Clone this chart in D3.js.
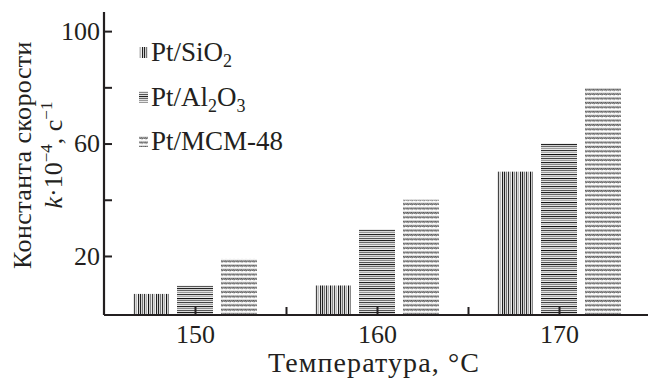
<!DOCTYPE html>
<html>
<head>
<meta charset="utf-8">
<script src="https://cdn.jsdelivr.net/npm/d3@7"></script>
<style>
  body { margin: 0; background: #fff; }
  svg text { font-family: "Liberation Serif", "DejaVu Serif", serif; fill: #231f20; }
</style>
</head>
<body>
<svg id="chart" width="648" height="378"></svg>
<script>
// data
const categories = ['150', '160', '170'];
const series = ['Pt/SiO2', 'Pt/Al2O3', 'Pt/MCM-48'];
const ptSiO2 = [6.5, 9.5, 50];
const ptAl2O3 = [9.5, 29.5, 60];
const ptMCM48 = [19, 40, 80];
const yTicks = [20, 40, 60, 80, 100];
const yLabels = [20, 60, 100];

const values = [ptSiO2, ptAl2O3, ptMCM48];
const ink = '#231f20';

const svg = d3.select('#chart');
const plotLeft = 104, plotRight = 650, plotBottom = 315, plotTop = 12;

const y = d3.scaleLinear().domain([-1, 106.8]).range([plotBottom, plotTop]);
const x0 = d3.scaleBand().domain(categories).range([plotLeft, plotRight]);
const x1 = d3.scaleBand().domain(series).range([0, x0.bandwidth()])
  .paddingInner(8 / 44).paddingOuter(0.659);
// tick positions: group centres and the boundaries between groups
const xPos = d3.scaleLinear().domain([0, categories.length]).range([plotLeft, plotRight]);

// fill patterns
const defs = svg.append('defs');

const pv = defs.append('pattern').attr('id', 'pat0')
  .attr('patternUnits', 'userSpaceOnUse').attr('width', 18).attr('height', 4);
pv.append('rect').attr('width', 18).attr('height', 4).attr('fill', '#fff');
[['#222', 0], ['#777', 2], ['#333', 4], ['#aaa', 6], ['#111', 8], ['#888', 10], ['#444', 12], ['#bbb', 14], ['#222', 16]]
  .forEach(([c, px]) => pv.append('rect').attr('x', px).attr('width', 1.2).attr('height', 4).attr('fill', c));

const ph = defs.append('pattern').attr('id', 'pat1')
  .attr('patternUnits', 'userSpaceOnUse').attr('width', 4).attr('height', 24);
ph.append('rect').attr('width', 4).attr('height', 24).attr('fill', '#fff');
[['#222', 0], ['#666', 2], ['#999', 4], ['#333', 6], ['#aaa', 8], ['#111', 10], ['#777', 12], ['#444', 14], ['#999', 16], ['#222', 18], ['#888', 20], ['#555', 22]]
  .forEach(([c, py]) => ph.append('rect').attr('y', py).attr('width', 4).attr('height', 1.2).attr('fill', c));

// wavy dotted rows for MCM-48
const pw = defs.append('pattern').attr('id', 'pat2')
  .attr('patternUnits', 'userSpaceOnUse').attr('width', 4).attr('height', 4.4);
pw.append('rect').attr('width', 4).attr('height', 4.4).attr('fill', '#fff');
pw.append('path').attr('d', 'M0,2.4 L1,1 L2,2.4 L3,1 L4,2.4')
  .attr('fill', 'none').attr('stroke', '#333').attr('stroke-width', 1)
  .attr('stroke-dasharray', '1.2 0.4');

// bars
const groups = svg.append('g').selectAll('g')
  .data(categories)
  .join('g')
  .attr('transform', d => `translate(${x0(d)},0)`);

groups.selectAll('rect')
  .data((d, i) => series.map((s, j) => ({ s, j, v: values[j][i] })))
  .join('rect')
  .attr('x', d => x1(d.s))
  .attr('width', x1.bandwidth())
  .attr('y', d => y(d.v))
  .attr('height', d => plotBottom - y(d.v))
  .attr('fill', d => `url(#pat${d.j})`);

// y axis
const yAxis = svg.append('g').attr('transform', `translate(${plotLeft},0)`)
  .call(d3.axisLeft(y).tickValues(yTicks).tickSize(-8).tickPadding(4)
    .tickFormat(d => yLabels.includes(d) ? d : ''));
yAxis.select('.domain').attr('d', `M0,${plotTop}V${plotBottom}`);

// x axis
const xTicks = d3.range(0.5, categories.length, 0.5);
const xAxis = svg.append('g').attr('transform', `translate(0,${plotBottom})`)
  .call(d3.axisBottom(xPos).tickValues(xTicks).tickSize(-8).tickPadding(10)
    .tickFormat(d => (d % 1) ? categories[Math.floor(d)] : ''));
xAxis.select('.domain').attr('d', `M${plotLeft},0H${plotRight}`);

svg.selectAll('.domain').attr('stroke', ink).attr('stroke-width', 2.2);
svg.selectAll('.tick line').attr('stroke', ink).attr('stroke-width', 2);
svg.selectAll('.tick text').attr('font-size', 26).attr('fill', ink)
  .style('font-family', '"Liberation Serif", serif');

// axis titles
svg.append('text')
  .attr('x', 374).attr('y', 372).attr('text-anchor', 'middle')
  .attr('font-size', 28).attr('letter-spacing', 1.1).text('Температура, °C');

const yt = svg.append('g').attr('transform', 'translate(0,155) rotate(-90)');
yt.append('text').attr('x', 0).attr('y', 31).attr('text-anchor', 'middle')
  .attr('font-size', 26).attr('letter-spacing', 0.4).text('Константа скорости');
const yt2 = yt.append('text').attr('x', 0).attr('y', 62).attr('text-anchor', 'middle')
  .attr('font-size', 26);
yt2.append('tspan').attr('font-style', 'italic').text('k');
yt2.append('tspan').text('·10');
yt2.append('tspan').attr('dy', -10).attr('font-size', 17).text('−4');
yt2.append('tspan').attr('dy', 10).text(', c');
yt2.append('tspan').attr('dy', -10).attr('font-size', 17).text('−1');

// legend
const legendRows = [
  [['Pt/SiO'], ['2', 'sub']],
  [['Pt/Al'], ['2', 'sub'], ['O'], ['3', 'sub']],
  [['Pt/MCM-48']]
];
const legend = svg.append('g');
legendRows.forEach((parts, i) => {
  const cy = 52 + i * 44.5;
  legend.append('rect').attr('x', 139).attr('y', cy - 5).attr('width', 9).attr('height', 11)
    .attr('fill', `url(#pat${i})`);
  const t = legend.append('text').attr('x', 151).attr('y', cy + 9).attr('font-size', 27);
  let shifted = false;
  parts.forEach(([txt, kind]) => {
    const sp = t.append('tspan').text(txt);
    if (kind === 'sub') { sp.attr('font-size', 18).attr('dy', 6); shifted = true; }
    else if (shifted) { sp.attr('dy', -6); shifted = false; }
  });
});
</script>
</body>
</html>
